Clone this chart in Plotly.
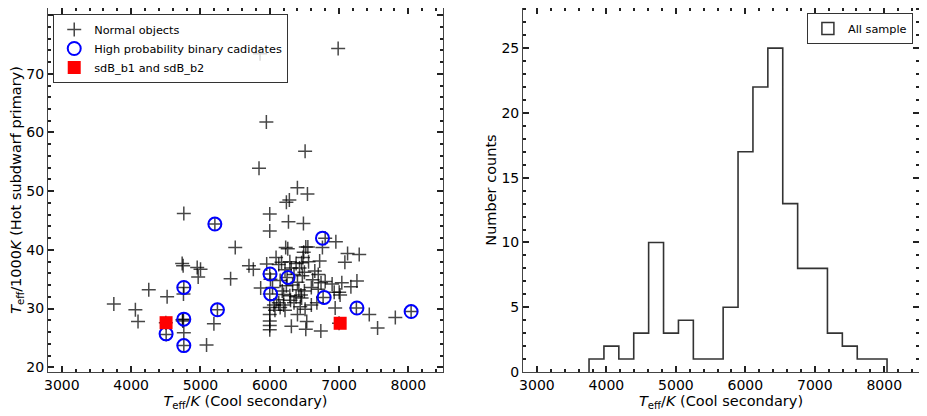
import plotly.graph_objects as go
from plotly.subplots import make_subplots

# Scatter: all objects (cool secondary Teff in K, hot primary Teff in 1000 K)
normal_teff_cool = [
    3750, 4061, 4099, 4254, 4519, 4500, 4505,
    4760, 4736, 4750, 4760, 4755, 4755, 4745, 4760, 4760, 4740,
    4953, 5001, 4967, 5088, 5194, 5208, 5245, 5435, 5502,
    5700, 5763, 5845, 5860, 5869,
    5951, 5956, 6091, 6000, 6000, 6000, 6000, 6000, 6000, 6000, 6000, 6000,
    6040, 6060, 6075, 6100, 6010,
    6283, 6240, 6270, 6230, 6260, 6312, 6250, 6130, 6150, 6180, 6200,
    6200, 6150, 6130, 6220, 6290, 6310, 6240, 6290, 6170, 6220, 6300,
    6399, 6510, 6486, 6534, 6520, 6520, 6490, 6480, 6460, 6430, 6380,
    6350, 6400, 6420, 6450, 6460, 6500, 6380, 6350, 6440, 6510, 6330,
    6470, 6400, 6500,
    6544, 6550, 6737, 6720, 6700, 6650, 6620, 6600, 6700, 6680, 6600, 6740, 6560,
    6954, 6944, 6760, 6770, 6800, 6900, 6930, 6800,
    6987, 7123, 7084, 7002, 7015, 7171, 7000, 7040,
    7291, 7258, 7250, 7436, 7556, 7812, 8040,
]
normal_teff_hot = [
    30.8, 29.8, 27.8, 33.2, 32.0, 27.6, 25.6,
    46.2, 37.7, 37.3, 33.6, 32.5, 28.2, 27.9, 25.9, 23.7, 28.1,
    37.0, 36.7, 35.4, 23.8, 27.4, 44.4, 29.8, 35.1, 40.4,
    37.3, 36.7, 53.9, 73.4, 33.5,
    61.8, 37.6, 38.7, 46.1, 43.2, 35.9, 32.5, 30.2, 29.0, 27.9, 27.1, 26.4,
    33.6, 30.6, 29.7, 31.5, 35.0,
    48.5, 48.1, 44.8, 40.4, 40.2, 27.0, 35.3, 37.5, 34.8, 33.0, 32.4,
    30.6, 30.2, 31.0, 36.6, 38.0, 36.9, 33.9, 32.2, 37.9, 29.7, 31.4,
    50.6, 56.8, 44.5, 27.8, 26.5, 40.5, 39.6, 38.7, 37.8, 36.9, 37.7,
    35.8, 34.5, 33.2, 32.3, 31.8, 33.0, 32.0, 31.0, 30.3, 29.9, 34.0,
    35.6, 29.0, 36.2,
    49.5, 40.5, 26.2, 38.1, 35.8, 36.4, 34.9, 33.6, 33.3, 31.0, 30.6, 34.4, 38.0,
    41.4, 30.1, 40.4, 31.9, 42.0, 34.2, 32.8, 34.6,
    74.3, 39.4, 37.9, 32.8, 32.3, 33.7, 27.5, 34.4,
    39.2, 34.7, 30.1, 29.0, 26.7, 28.5, 29.5,
]

# High probability binary candidates
cand_teff_cool = [5208, 6761, 6004, 6264, 6013, 6785, 4760, 5245, 4760, 4504, 4760, 7258, 8040]
cand_teff_hot = [44.4, 42.0, 35.9, 35.3, 32.5, 31.9, 33.6, 29.8, 28.2, 25.7, 23.7, 30.1, 29.5]

# sdB_b1 and sdB_b2
sdb_teff_cool = [4504, 7016]
sdb_teff_hot = [27.6, 27.5]

# Histogram of cool secondary Teff (20 bins)
hist_edges = [3750, 3964.5, 4179, 4393.5, 4608, 4822.5, 5037, 5251.5, 5466, 5680.5, 5895,
              6109.5, 6324, 6538.5, 6753, 6967.5, 7182, 7396.5, 7611, 7825.5, 8040]
hist_counts = [1, 2, 1, 3, 10, 3, 4, 1, 1, 5, 17, 22, 25, 13, 8, 8, 3, 2, 1, 1]

FONT = "DejaVu Sans"
AXIS_COLOR = "#444444"
TITLE_SIZE = 14.5

fig = make_subplots(rows=1, cols=2, horizontal_spacing=0.09)

fig.add_trace(go.Scatter(
    x=normal_teff_cool, y=normal_teff_hot, mode="markers", name="Normal objects",
    marker=dict(symbol="cross-thin", size=10, line=dict(color="rgba(0,0,0,0.72)", width=1.5)),
    legend="legend"), row=1, col=1)
fig.add_trace(go.Scatter(
    x=cand_teff_cool, y=cand_teff_hot, mode="markers", name="High probability binary cadidates",
    marker=dict(symbol="circle-open", size=13, color="#0000ff", line=dict(width=2)),
    legend="legend"), row=1, col=1)
fig.add_trace(go.Scatter(
    x=sdb_teff_cool, y=sdb_teff_hot, mode="markers", name="sdB_b1 and sdB_b2",
    marker=dict(symbol="square", size=13, color="#ff0000"),
    legend="legend"), row=1, col=1)

# step outline of the histogram
step_x = [hist_edges[0]] + hist_edges
step_y = [0] + hist_counts + [hist_counts[-1]]
fig.add_trace(go.Scatter(
    x=step_x + [hist_edges[-1]], y=step_y + [0], mode="lines", line_shape="hv",
    line=dict(color="#333333", width=1.6), showlegend=False), row=1, col=2)
fig.add_trace(go.Bar(
    x=[None], y=[None], name="All sample",
    marker=dict(color="white", line=dict(color="#333333", width=1.5)),
    legend="legend2"), row=1, col=2)

axis_common = dict(
    showline=True, linecolor=AXIS_COLOR, linewidth=1, mirror="ticks",
    ticks="inside", ticklen=6, tickwidth=2, tickcolor="#222222",
    showgrid=False, zeroline=False, automargin=False,
    tickfont=dict(family=FONT, size=14, color="black"),
)
xtitle = "<i>T</i><sub>eff</sub>/<i>K</i> (Cool secondary)"

fig.update_xaxes(**axis_common, range=[2800, 8500], dtick=1000, tick0=3000,
                 minor=dict(ticks="inside", dtick=200, ticklen=3, tickcolor="#222222"),
                 title=dict(text=xtitle, font=dict(family=FONT, size=TITLE_SIZE, color="black"), standoff=3))
fig.update_yaxes(**axis_common, row=1, col=1, range=[19.2, 81.2], dtick=10, tick0=20,
                 minor=dict(ticks="inside", dtick=2, ticklen=3, tickcolor="#222222"),
                 title=dict(text="<i>T</i><sub>eff</sub>/1000<i>K</i> (Hot subdwarf primary)",
                            font=dict(family=FONT, size=TITLE_SIZE, color="black"), standoff=2))
fig.update_yaxes(**axis_common, row=1, col=2, range=[0, 28.1], dtick=5, tick0=0,
                 minor=dict(ticks="inside", dtick=1, ticklen=3, tickcolor="#222222"),
                 title=dict(text="Number counts", font=dict(family=FONT, size=TITLE_SIZE, color="black"), standoff=1))

# the page body adds an 8 px offset, so the figure is sized to fit inside the window
fig.update_layout(
    width=919, height=408,
    margin=dict(l=40, r=8, t=0, b=44),
    plot_bgcolor="white", paper_bgcolor="white",
    font=dict(family=FONT, color="black"),
    xaxis=dict(domain=[0, 0.4535]),
    xaxis2=dict(domain=[0.5454, 1]),
    legend=dict(x=0.006, y=0.9835, xanchor="left", yanchor="top",
                bgcolor="rgba(255,255,255,0.8)", bordercolor="#333333", borderwidth=1,
                font=dict(family=FONT, size=11.3), tracegroupgap=0, itemsizing="trace"),
    legend2=dict(x=0.993, y=0.986, xanchor="right", yanchor="top",
                 bgcolor="rgba(255,255,255,0.8)", bordercolor="#333333", borderwidth=1,
                 font=dict(family=FONT, size=11.3)),
    showlegend=True,
)

fig.write_html("out.html")
